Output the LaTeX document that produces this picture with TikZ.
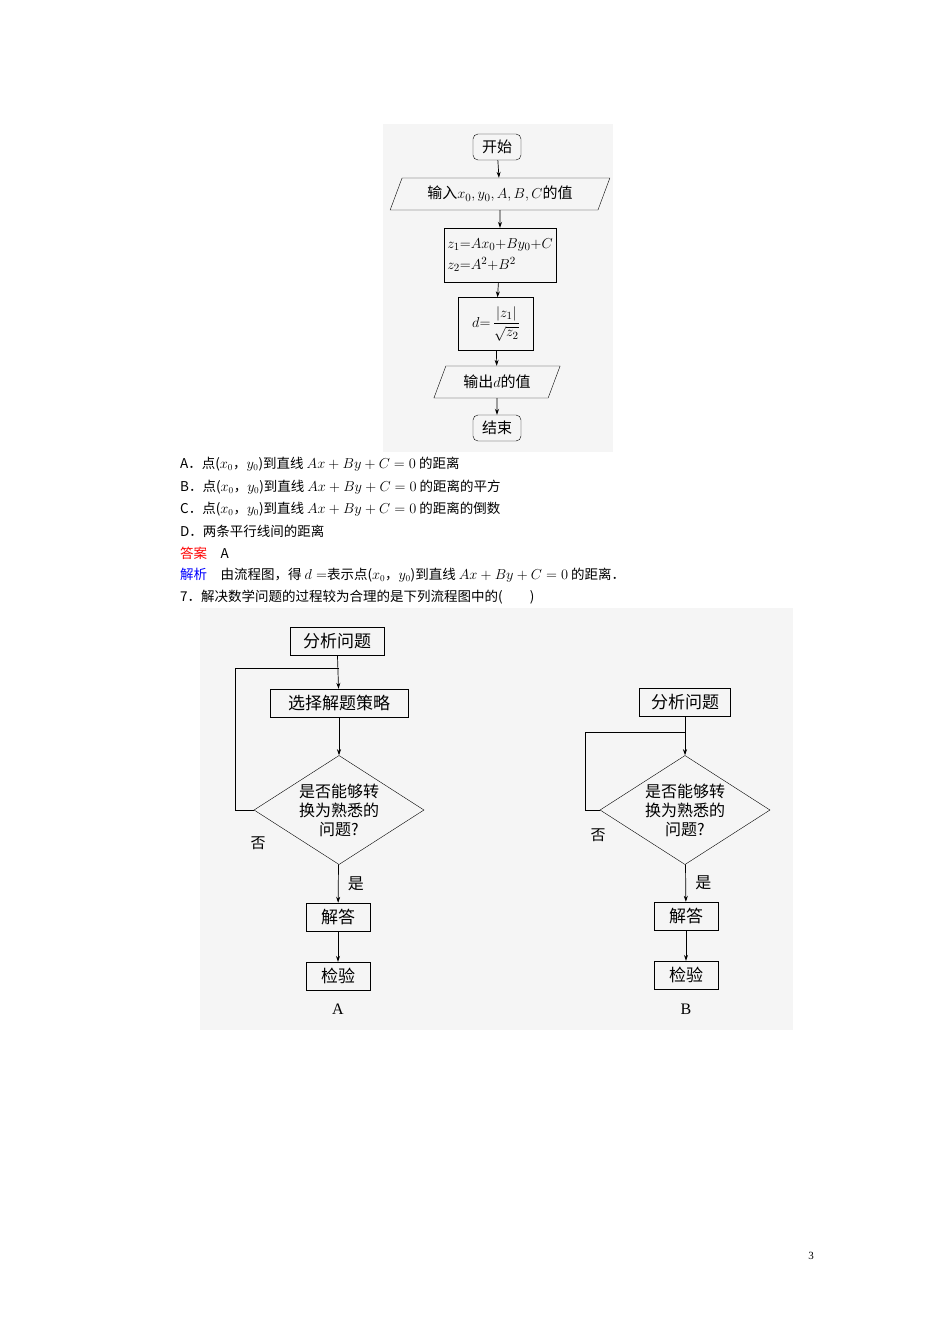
\documentclass[tikz,border=0pt]{standalone}
\usepackage{fontspec}
\setmainfont{Liberation Serif}
\newfontfamily\cjk{Noto Sans CJK SC}
\usetikzlibrary{shapes.geometric,arrows.meta,positioning}

\begin{document}
\begin{tikzpicture}[x=1pt, y=1pt,
    >={Stealth[length=6pt,width=4pt]},
    every node/.style={font=\cjk\fontsize{15}{17}\selectfont},
    term/.style={draw, rounded corners=5pt, minimum width=48pt, minimum height=26pt, inner sep=2pt},
    io/.style={draw, trapezium, trapezium left angle=65, trapezium right angle=115, trapezium stretches=true, minimum height=32pt, inner sep=2pt},
    proc/.style={draw, minimum height=28pt, inner sep=3pt},
    cond/.style={draw, diamond, aspect=1.42, minimum width=170pt, inner sep=0pt, align=center, font=\cjk\fontsize{16}{19}\selectfont},
    txt/.style={anchor=west, inner sep=0pt, font=\cjk\fontsize{13.5}{15}\selectfont},
    flow/.style={->, line width=0.7pt}
]
\useasboundingbox (0,0) rectangle (950,-1344);

% backgrounds
\fill[black!4] (383,-124) rectangle (613,-452);
\fill[black!4] (200,-608) rectangle (793,-1030);

% first flowchart
\node[term] (start) at (497,-147) {开始};
\node[io, minimum width=220pt] (input) at (500,-194) {输入$x_0,y_0,A,B,C$的值};
\node[proc, minimum width=106pt, minimum height=54pt, align=left, font=\fontsize{15}{21}\selectfont] (calc) at (500,-255)
    {$z_1{=}Ax_0{+}By_0{+}C$\\ $z_2{=}A^2{+}B^2$};
\node[proc, minimum width=75pt, minimum height=53pt, font=\fontsize{15}{17}\selectfont] (dist) at (496,-324) {$d{=}\,\displaystyle\frac{|z_1|}{\sqrt{z_2}}$};
\node[io, minimum width=127pt] (output) at (497,-382) {输出$d$的值};
\node[term] (stop) at (497,-428) {结束};
\draw[flow] (start) -- (input);
\draw[flow] (input) -- (calc);
\draw[flow] (calc) -- (dist);
\draw[flow] (dist) -- (output);
\draw[flow] (output) -- (stop);

% question text
\node[txt] (qa) at (180,-464) {A．点($x_0$，$y_0$)到直线 $Ax+By+C=0$ 的距离};
\node[txt] (qb) at (180,-487) {B．点($x_0$，$y_0$)到直线 $Ax+By+C=0$ 的距离的平方};
\node[txt] (qc) at (180,-509) {C．点($x_0$，$y_0$)到直线 $Ax+By+C=0$ 的距离的倒数};
\node[txt] (qd) at (180,-531) {D．两条平行线间的距离};
\node[txt] (ans) at (180,-553) {\textcolor{red}{答案}\quad A};
\node[txt] (expl) at (180,-575) {\textcolor{blue}{解析}\quad 由流程图，得 $d=$表示点($x_0$，$y_0$)到直线 $Ax+By+C=0$ 的距离．};
\node[txt] (q7) at (180,-597) {7．解决数学问题的过程较为合理的是下列流程图中的(\qquad)};

% flowchart A
\node[proc, minimum width=94pt, font=\cjk\fontsize{17}{19}\selectfont] (anA) at (337,-641) {分析问题};
\node[proc, minimum width=138pt, font=\cjk\fontsize{17}{19}\selectfont] (plA) at (339,-703) {选择解题策略};
\node[cond] (chA) at (339,-810) {是否能够转\\换为熟悉的\\问题?};
\node[proc, minimum width=64pt, font=\cjk\fontsize{17}{19}\selectfont] (soA) at (338,-917) {解答};
\node[proc, minimum width=64pt, font=\cjk\fontsize{17}{19}\selectfont] (ckA) at (338,-976) {检验};
\coordinate (jA) at (339,-668);
\draw[flow] (anA) -- (plA);
\draw[flow] (plA) -- (chA);
\draw[flow] (chA) -- node[right=6pt, font=\cjk\fontsize{16}{18}\selectfont] (yesA) {是} (soA);
\draw[flow] (soA) -- (ckA);
\draw[line width=0.7pt] (chA.west) -- (235,-810) |- (jA);
\node (noA) at (258,-843) {否};
\node[font=\fontsize{16}{18}\selectfont] (capA) at (338,-1009) {A};

% flowchart B
\node[proc, minimum width=91pt, font=\cjk\fontsize{17}{19}\selectfont] (anB) at (685,-702) {分析问题};
\node[cond] (chB) at (685,-810) {是否能够转\\换为熟悉的\\问题?};
\node[proc, minimum width=64pt, font=\cjk\fontsize{17}{19}\selectfont] (soB) at (686,-916) {解答};
\node[proc, minimum width=64pt, font=\cjk\fontsize{17}{19}\selectfont] (ckB) at (686,-975) {检验};
\coordinate (jB) at (685,-732);
\draw[flow] (anB) -- (chB);
\draw[flow] (chB) -- node[right=6pt, font=\cjk\fontsize{16}{18}\selectfont] (yesB) {是} (soB);
\draw[flow] (soB) -- (ckB);
\draw[line width=0.7pt] (chB.west) -- (585,-810) |- (jB);
\node (noB) at (598,-835) {否};
\node[font=\fontsize{16}{18}\selectfont] (capB) at (686,-1009) {B};

\node[font=\fontsize{11}{12}\selectfont] (page) at (811,-1256) {3};
\end{tikzpicture}
\end{document}
